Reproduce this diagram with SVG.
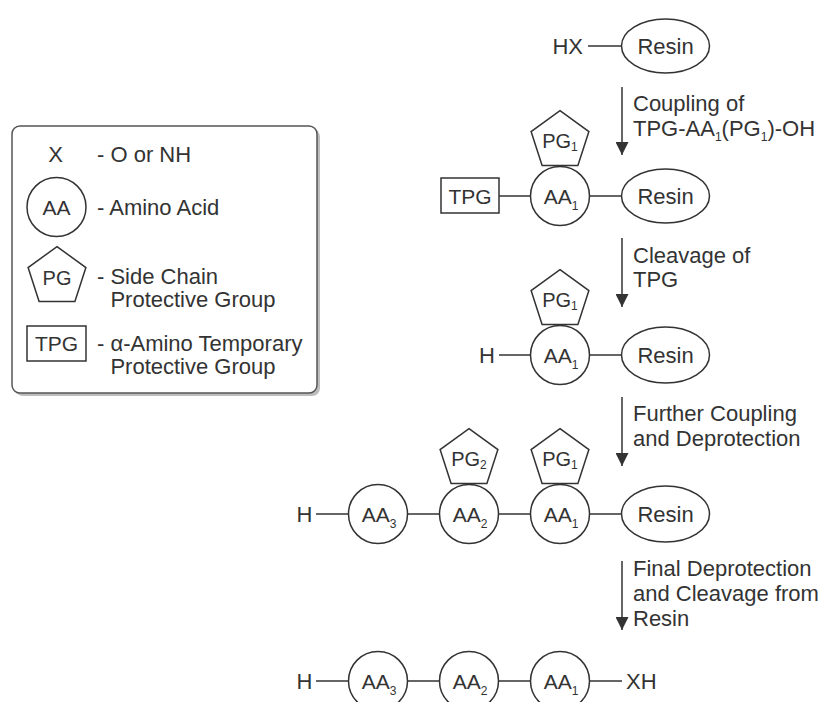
<svg xmlns="http://www.w3.org/2000/svg" xmlns:xlink="http://www.w3.org/1999/xlink" width="824" height="702" viewBox="0 0 824 702">
<style>
text{font-family:"Liberation Sans",Arial,sans-serif;font-size:22px;fill:#333;}
.n{font-size:21px;text-anchor:middle;}
.p{font-size:20px;text-anchor:middle;}
.sub{font-size:12px;}
.sh{fill:none;stroke:#333;stroke-width:1.5;}
.ln{stroke:#333;stroke-width:1.5;fill:none;}
</style>
<defs>
<path id="pent" d="M0,-30.4 L28.9,-9.4 L17.9,24.6 L-17.9,24.6 L-28.9,-9.4 Z"/>
<marker id="ah" markerUnits="userSpaceOnUse" markerWidth="13" markerHeight="13" refX="12" refY="6" orient="auto" viewBox="0 0 12 12">
<path d="M0,0 L12,6 L0,12 Z" fill="#333"/>
</marker>
</defs>

<g id="legend">
<rect x="15" y="129" width="305" height="267" rx="8" fill="#bdbdbd"/>
<rect x="12" y="126" width="305" height="267" rx="8" fill="#fff" stroke="#555" stroke-width="1.5"/>
<text x="55.5" y="162" text-anchor="middle">X</text>
<text x="97" y="162">- O or NH</text>
<circle cx="56.5" cy="207" r="29.5" class="sh"/>
<text x="56.5" y="214.5" class="n">AA</text>
<text x="97" y="215">- Amino Acid</text>
<use xlink:href="#pent" x="57" y="277" class="sh"/>
<text x="57" y="285" class="p">PG</text>
<text x="97" y="284">- Side Chain</text>
<text x="110.4" y="307">Protective Group</text>
<rect x="27" y="326" width="59" height="35" class="sh"/>
<text x="56.5" y="351" class="n">TPG</text>
<text x="97" y="351">- α-Amino Temporary</text>
<text x="110.4" y="374">Protective Group</text>
</g>

<g id="connectors">
<line x1="588" y1="46" x2="621.5" y2="46" class="ln"/>
<line x1="499" y1="196" x2="530.5" y2="196" class="ln"/>
<line x1="589.5" y1="196" x2="621.5" y2="196" class="ln"/>
<line x1="499" y1="355" x2="530.5" y2="355" class="ln"/>
<line x1="589.5" y1="355" x2="621.5" y2="355" class="ln"/>
<line x1="316" y1="514" x2="348.5" y2="514" class="ln"/>
<line x1="407.5" y1="514" x2="439.5" y2="514" class="ln"/>
<line x1="498.5" y1="514" x2="530.5" y2="514" class="ln"/>
<line x1="589.5" y1="514" x2="621.5" y2="514" class="ln"/>
<line x1="316" y1="681" x2="348.5" y2="681" class="ln"/>
<line x1="407.5" y1="681" x2="439.5" y2="681" class="ln"/>
<line x1="498.5" y1="681" x2="530.5" y2="681" class="ln"/>
<line x1="589.5" y1="681" x2="622" y2="681" class="ln"/>
<line x1="622" y1="87" x2="622" y2="155" class="ln" marker-end="url(#ah)"/>
<line x1="622" y1="238" x2="622" y2="307" class="ln" marker-end="url(#ah)"/>
<line x1="622" y1="397" x2="622" y2="466" class="ln" marker-end="url(#ah)"/>
<line x1="622" y1="561" x2="622" y2="630" class="ln" marker-end="url(#ah)"/>
</g>

<g id="labels">
<text x="633" y="111">Coupling of</text>
<text x="633" y="136">TPG-AA<tspan class="sub" dy="5">1</tspan><tspan dy="-5">(PG</tspan><tspan class="sub" dy="5">1</tspan><tspan dy="-5">)-OH</tspan></text>
<text x="633" y="263">Cleavage of</text>
<text x="633" y="287">TPG</text>
<text x="633" y="421">Further Coupling</text>
<text x="633" y="446">and Deprotection</text>
<text x="633" y="576">Final Deprotection</text>
<text x="633" y="601">and Cleavage from</text>
<text x="633" y="626">Resin</text>
</g>

<g id="row1">
<text x="583" y="54" text-anchor="end">HX</text>
<ellipse cx="665.5" cy="46" rx="44" ry="27" class="sh"/>
<text x="665.5" y="54" text-anchor="middle">Resin</text>
</g>

<g id="row2">
<rect x="441" y="178" width="58" height="35" class="sh"/>
<text x="470" y="203.5" class="n">TPG</text>
<use xlink:href="#pent" x="560" y="141" class="sh"/>
<text x="560" y="148" class="p">PG<tspan class="sub" dy="3">1</tspan></text>
<circle cx="560" cy="196" r="29.5" class="sh"/>
<text x="561" y="203.5" class="n">AA<tspan class="sub" dy="6">1</tspan></text>
<ellipse cx="665.5" cy="196" rx="44" ry="27" class="sh"/>
<text x="665.5" y="204" text-anchor="middle">Resin</text>
</g>

<g id="row3">
<text x="495" y="363" text-anchor="end">H</text>
<use xlink:href="#pent" x="560" y="300" class="sh"/>
<text x="560" y="307" class="p">PG<tspan class="sub" dy="3">1</tspan></text>
<circle cx="560" cy="355" r="29.5" class="sh"/>
<text x="561" y="362.5" class="n">AA<tspan class="sub" dy="6">1</tspan></text>
<ellipse cx="665.5" cy="355" rx="44" ry="28" class="sh"/>
<text x="665.5" y="363" text-anchor="middle">Resin</text>
</g>

<g id="row4">
<text x="312.5" y="522" text-anchor="end">H</text>
<circle cx="378" cy="514" r="29.5" class="sh"/>
<text x="379" y="521.5" class="n">AA<tspan class="sub" dy="6">3</tspan></text>
<use xlink:href="#pent" x="469" y="459" class="sh"/>
<text x="469" y="466" class="p">PG<tspan class="sub" dy="3">2</tspan></text>
<circle cx="469" cy="514" r="29.5" class="sh"/>
<text x="470" y="521.5" class="n">AA<tspan class="sub" dy="6">2</tspan></text>
<use xlink:href="#pent" x="560" y="459" class="sh"/>
<text x="560" y="466" class="p">PG<tspan class="sub" dy="3">1</tspan></text>
<circle cx="560" cy="514" r="29.5" class="sh"/>
<text x="561" y="521.5" class="n">AA<tspan class="sub" dy="6">1</tspan></text>
<ellipse cx="665.5" cy="514" rx="44" ry="28" class="sh"/>
<text x="665.5" y="522" text-anchor="middle">Resin</text>
</g>

<g id="row5">
<text x="312.5" y="689" text-anchor="end">H</text>
<circle cx="378" cy="681" r="29.5" class="sh"/>
<text x="379" y="688.5" class="n">AA<tspan class="sub" dy="6">3</tspan></text>
<circle cx="469" cy="681" r="29.5" class="sh"/>
<text x="470" y="688.5" class="n">AA<tspan class="sub" dy="6">2</tspan></text>
<circle cx="560" cy="681" r="29.5" class="sh"/>
<text x="561" y="688.5" class="n">AA<tspan class="sub" dy="6">1</tspan></text>
<text x="626" y="689">XH</text>
</g>
</svg>
